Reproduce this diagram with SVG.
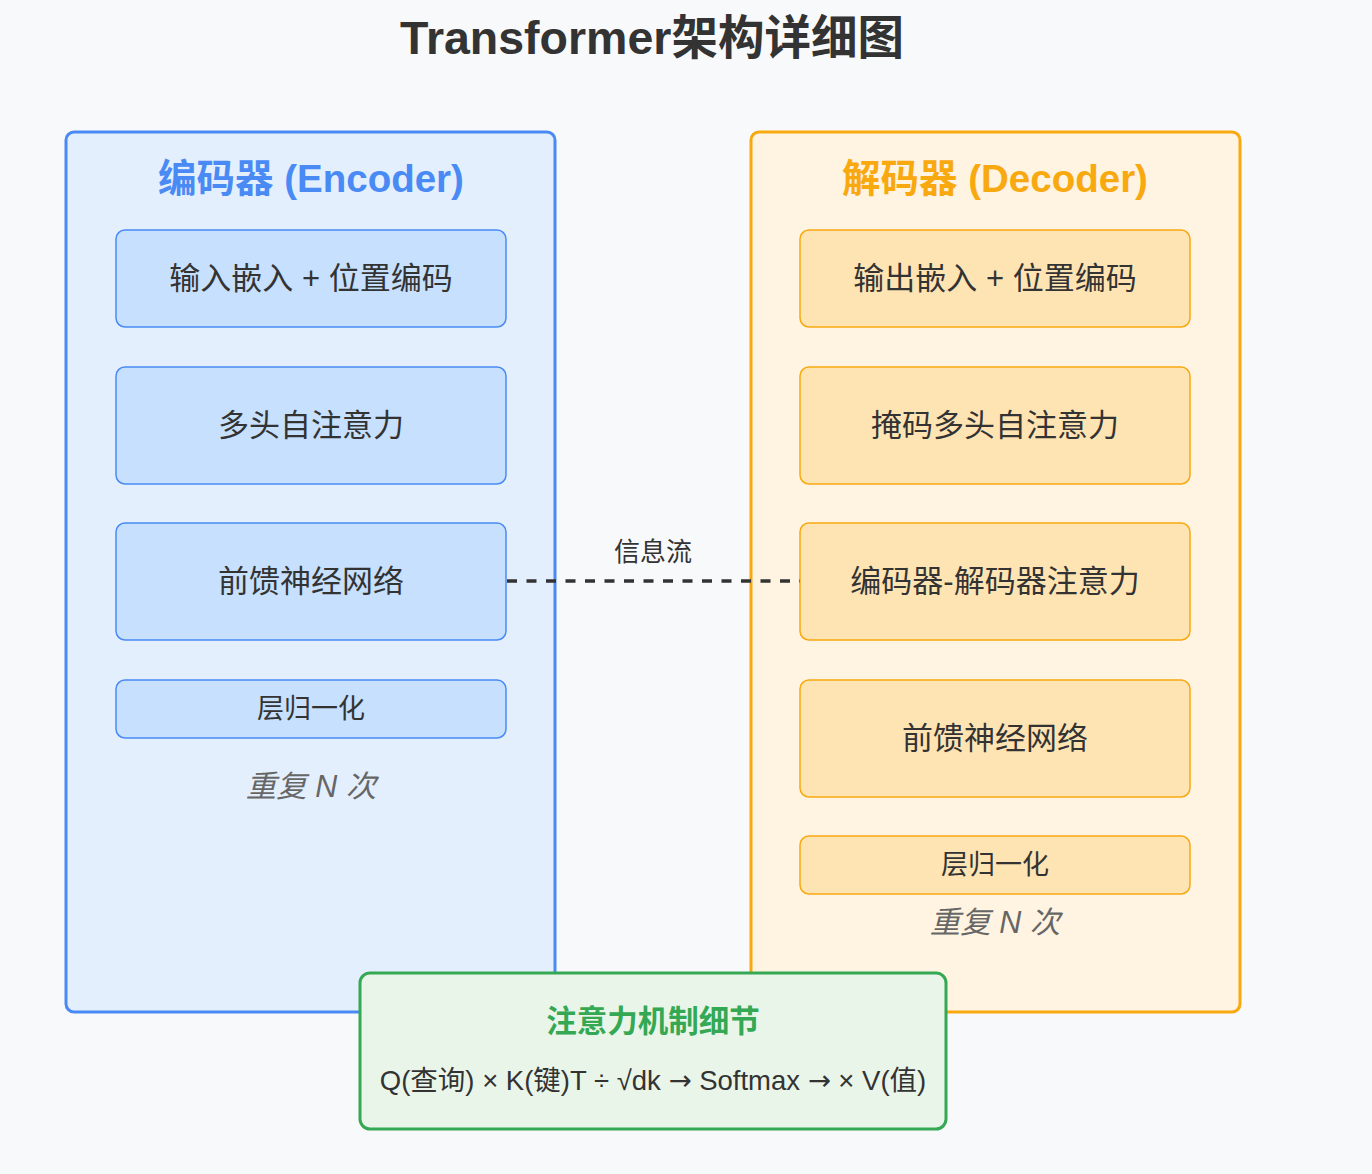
<svg xmlns="http://www.w3.org/2000/svg" width="1372" height="1174" viewBox="0 0 1372 1174">
<style>
text{font-family:"Liberation Sans","Noto Sans CJK SC",sans-serif;text-anchor:middle;dominant-baseline:central;fill:#333}
.title{font-size:46.5px;font-weight:bold}
.hdr{font-size:38.5px;font-weight:bold}
.enc-c{fill:#e3effd;stroke:#4a8af4;stroke-width:3}
.dec-c{fill:#fff3e1;stroke:#f7a90f;stroke-width:3}
.enc-b{fill:#c6e0fd;stroke:#4a8af4;stroke-width:1.5}
.dec-b{fill:#ffe4b3;stroke:#f7a90f;stroke-width:1.5}
.lbl{font-size:31px}
.sm{font-size:27px}
.rep{font-size:30.5px;font-style:italic;fill:#666}
.arr{font-family:"DejaVu Sans",sans-serif}
</style>
<rect width="1372" height="1174" fill="#f8f9fa"/>
<text class="title" x="652" y="38">Transformer架构详细图</text>

<g id="encoder">
<rect class="enc-c" x="66" y="132" width="489" height="880" rx="8"/>
<text class="hdr" x="311" y="178" style="fill:#4a8af4">编码器 (Encoder)</text>
</g>
<g id="enc-embed"><rect class="enc-b" x="116" y="230" width="390" height="97" rx="9"/><text class="lbl" x="311" y="278">输入嵌入 + 位置编码</text></g>
<g id="enc-attn"><rect class="enc-b" x="116" y="367" width="390" height="117" rx="9"/><text class="lbl" x="311" y="425">多头自注意力</text></g>
<g id="enc-ffn"><rect class="enc-b" x="116" y="523" width="390" height="117" rx="9"/><text class="lbl" x="311" y="581">前馈神经网络</text></g>
<g id="enc-norm"><rect class="enc-b" x="116" y="680" width="390" height="58" rx="9"/><text class="sm" x="311" y="709">层归一化</text></g>
<text class="rep" x="311" y="786">重复 N 次</text>

<g id="decoder">
<rect class="dec-c" x="751" y="132" width="489" height="880" rx="8"/>
<text class="hdr" x="995" y="178" style="fill:#f7a90f">解码器 (Decoder)</text>
</g>
<g id="dec-embed"><rect class="dec-b" x="800" y="230" width="390" height="97" rx="9"/><text class="lbl" x="995" y="278">输出嵌入 + 位置编码</text></g>
<g id="dec-mattn"><rect class="dec-b" x="800" y="367" width="390" height="117" rx="9"/><text class="lbl" x="995" y="425">掩码多头自注意力</text></g>
<g id="dec-xattn"><rect class="dec-b" x="800" y="523" width="390" height="117" rx="9"/><text class="lbl" x="995" y="581">编码器-解码器注意力</text></g>
<g id="dec-ffn"><rect class="dec-b" x="800" y="680" width="390" height="117" rx="9"/><text class="lbl" x="995" y="738">前馈神经网络</text></g>
<g id="dec-norm"><rect class="dec-b" x="800" y="836" width="390" height="58" rx="9"/><text class="sm" x="995" y="865">层归一化</text></g>
<text class="rep" x="995" y="922">重复 N 次</text>

<g id="connectors">
<line x1="507" y1="581" x2="800" y2="581" stroke="#333" stroke-width="3.5" stroke-dasharray="10,9.5"/>
<text x="653" y="552" style="font-size:26px">信息流</text>
</g>

<g id="attention-detail">
<rect x="360" y="973" width="586" height="156" rx="10" fill="#eaf5ea" stroke="#34a853" stroke-width="3"/>
<text x="653" y="1021" style="font-size:30.5px;font-weight:bold;fill:#34a853">注意力机制细节</text>
<text x="653" y="1080" style="font-size:27.5px">Q(查询) × K(键)T ÷ √dk <tspan class="arr">→</tspan> Softmax <tspan class="arr">→</tspan> × V(值)</text>
</g>
</svg>
